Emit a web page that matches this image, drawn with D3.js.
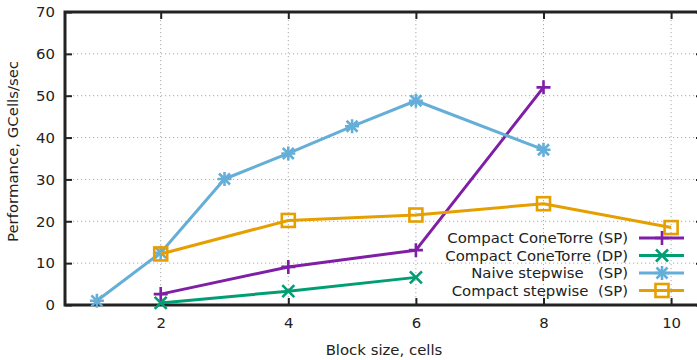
<!DOCTYPE html>
<html>
<head>
<meta charset="utf-8">
<script src="https://cdn.jsdelivr.net/npm/d3@7/dist/d3.min.js"></script>
<style>
  html, body { margin: 0; padding: 0; background: #fff; }
  svg { display: block; font-family: "DejaVu Sans", sans-serif; }
  text { white-space: pre; }
</style>
</head>
<body>
<svg id="chart" width="697" height="360"></svg>
<script>
// Block sizes and measured performance (GCells/sec)
const coneSPx = [2, 4, 6, 8];
const coneSPy = [2.6, 9.1, 13.1, 52.0];
const coneDPx = [2, 4, 6];
const coneDPy = [0.5, 3.3, 6.6];
const naiveX = [1, 2, 3, 4, 5, 6, 8];
const naiveY = [1.0, 12.5, 30.1, 36.2, 42.7, 48.8, 37.1];
const compactX = [2, 4, 6, 8, 10];
const compactY = [12.2, 20.2, 21.5, 24.2, 18.5];

const seriesNames = [
  "Compact ConeTorre (SP)",
  "Compact ConeTorre (DP)",
  "Naive stepwise   (SP)",
  "Compact stepwise  (SP)"
];
const seriesColors = ["#7f1fa6", "#009e73", "#65aed8", "#e69f00"];
const seriesMarkers = ["plus", "cross", "star", "square"];

const xTicks = [2, 4, 6, 8, 10];
const yTicks = [0, 10, 20, 30, 40, 50, 60, 70];

const series = [
  { name: seriesNames[0], color: seriesColors[0], marker: seriesMarkers[0], xs: coneSPx, ys: coneSPy },
  { name: seriesNames[1], color: seriesColors[1], marker: seriesMarkers[1], xs: coneDPx, ys: coneDPy },
  { name: seriesNames[2], color: seriesColors[2], marker: seriesMarkers[2], xs: naiveX, ys: naiveY },
  { name: seriesNames[3], color: seriesColors[3], marker: seriesMarkers[3], xs: compactX, ys: compactY }
];

const svg = d3.select("#chart");
const L = 65, R = 703, T = 12, B = 305;
const x = d3.scaleLinear().domain([0.5, 10.5]).range([L, R]);
const y = d3.scaleLinear().domain([0, 70]).range([B, T]);
const fs = "14.9px";
const ink = "#222";

// dotted grid
const grid = svg.append("g");
grid.selectAll("line.gx").data(xTicks).join("line")
  .attr("x1", d => x(d)).attr("x2", d => x(d)).attr("y1", T).attr("y2", B)
  .attr("stroke", "#aaa").attr("stroke-width", 1).attr("stroke-dasharray", "1.2,2.8");
grid.selectAll("line.gy").data(yTicks.filter(d => d > 0 && d < 70)).join("line")
  .attr("x1", L).attr("x2", R).attr("y1", d => y(d)).attr("y2", d => y(d))
  .attr("stroke", "#aaa").attr("stroke-width", 1).attr("stroke-dasharray", "1.2,2.8");

// axes with inward ticks
function styleAxis(g) {
  g.select(".domain").remove();
  g.selectAll(".tick line").attr("stroke", ink).attr("stroke-width", 2);
  g.selectAll(".tick text").attr("fill", ink).style("font-size", fs).style("font-family", "DejaVu Sans");
}
svg.append("g").attr("transform", `translate(0,${B})`)
  .call(d3.axisBottom(x).tickValues(xTicks).tickFormat(d3.format("d")).tickSizeInner(-7).tickSizeOuter(0).tickPadding(12))
  .call(styleAxis);
svg.append("g").attr("transform", `translate(${L},0)`)
  .call(d3.axisLeft(y).tickValues(yTicks).tickFormat(d3.format("d")).tickSizeInner(-7).tickSizeOuter(0).tickPadding(10))
  .call(styleAxis);
svg.append("g").attr("transform", `translate(0,${T})`)
  .call(d3.axisTop(x).tickValues(xTicks).tickFormat("").tickSizeInner(-7).tickSizeOuter(0))
  .call(styleAxis);
svg.append("g").attr("transform", `translate(${R},0)`)
  .call(d3.axisRight(y).tickValues(yTicks).tickFormat("").tickSizeInner(-7).tickSizeOuter(0))
  .call(styleAxis);

// frame
svg.append("rect").attr("x", L).attr("y", T).attr("width", R - L).attr("height", B - T)
  .attr("fill", "none").attr("stroke", ink).attr("stroke-width", 3);

// axis titles
svg.append("text").attr("x", 384).attr("y", 355)
  .attr("text-anchor", "middle").style("font-size", fs).attr("fill", ink)
  .text("Block size, cells");
svg.append("text").attr("transform", "translate(18,151.5) rotate(-90)")
  .attr("text-anchor", "middle").style("font-size", fs).attr("fill", ink)
  .text("Performance, GCells/sec");

// marker shapes
function drawMarker(g, type, cx, cy, color) {
  const sw = 2.6;
  if (type === "plus" || type === "star") {
    const s = 7;
    g.append("path").attr("d", `M${cx - s},${cy}H${cx + s}M${cx},${cy - s}V${cy + s}`)
      .attr("stroke", color).attr("stroke-width", sw).attr("fill", "none");
  }
  if (type === "cross" || type === "star") {
    const s = type === "star" ? 5.5 : 6;
    g.append("path").attr("d", `M${cx - s},${cy - s}L${cx + s},${cy + s}M${cx - s},${cy + s}L${cx + s},${cy - s}`)
      .attr("stroke", color).attr("stroke-width", sw).attr("fill", "none");
  }
  if (type === "square") {
    const s = 6.5;
    g.append("rect").attr("x", cx - s).attr("y", cy - s).attr("width", 2 * s).attr("height", 2 * s)
      .attr("stroke", color).attr("stroke-width", sw).attr("fill", "none");
  }
}

// series lines and points
const line = d3.line().x(d => x(d[0])).y(d => y(d[1]));
series.forEach(s => {
  const pts = s.xs.map((v, i) => [v, s.ys[i]]);
  const g = svg.append("g");
  g.append("path").attr("d", line(pts)).attr("fill", "none")
    .attr("stroke", s.color).attr("stroke-width", 3).attr("stroke-linejoin", "round");
  pts.forEach(p => drawMarker(g, s.marker, x(p[0]), y(p[1]), s.color));
});

// legend
const legendY = [238, 255.5, 273, 290.5];
series.forEach((s, i) => {
  const g = svg.append("g");
  g.append("text").attr("x", 628).attr("y", legendY[i]).attr("dy", "0.35em")
    .attr("text-anchor", "end").style("font-size", fs).attr("fill", ink).text(s.name);
  g.append("line").attr("x1", 639).attr("x2", 684).attr("y1", legendY[i]).attr("y2", legendY[i])
    .attr("stroke", s.color).attr("stroke-width", 3);
  drawMarker(g, s.marker, 662, legendY[i], s.color);
});
</script>
</body>
</html>
